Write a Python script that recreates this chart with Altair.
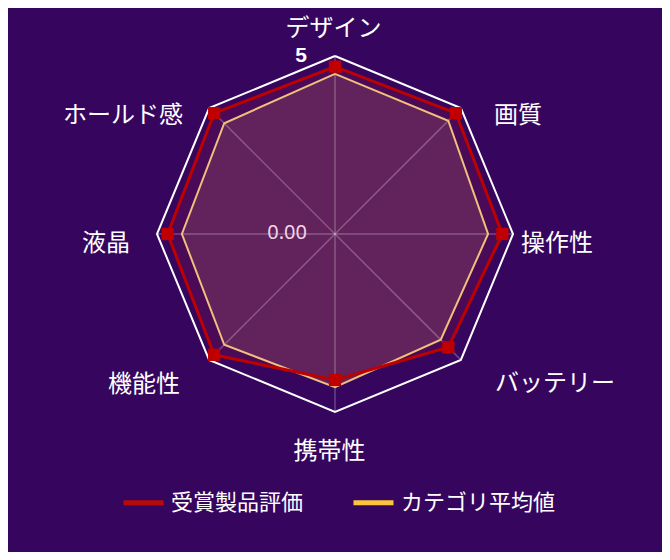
import math
import altair as alt
import pandas as pd

# ---------------- data ----------------
CATEGORIES = ["デザイン", "画質", "操作性", "バッテリー", "携帯性", "機能性", "液晶", "ホールド感"]
SERIES = ["受賞製品評価", "カテゴリ平均値"]
AWARD = [4.7, 4.8, 4.7, 4.5, 4.1, 4.8, 4.7, 4.8]
AVERAGE = [4.5, 4.5, 4.3, 4.2, 4.3, 4.4, 4.3, 4.4]
MAX_VALUE = 5
TICK_VALUES = [0, 5]
TICK_LABELS = ["0.00", "5"]

# ---------------- layout / style ----------------
W, H = 654, 544
CX, CY = 327, 226          # centre of the radar inside the svg (px)
R_PX = 178                 # outer radius (px)
PPU = R_PX / MAX_VALUE     # pixels per value unit
BG = "#36065f"
RED = "#bd0000"
YELLOW_LINE = "#f0c07c"
LEGEND_COLORS = ["#b80a0a", "#fcc43c"]
FONT = "Noto Sans CJK JP"

# label anchor offsets from the centre (px, y downward)
LABEL_OFFSETS = {
    "デザイン": (-1.5, -205, "center"),
    "画質": (159, -118.5, "left"),
    "操作性": (186, 9.5, "left"),
    "バッテリー": (160, 150, "left"),
    "携帯性": (-5.5, 217.5, "center"),
    "機能性": (-155, 150.5, "right"),
    "液晶": (-205, 10, "right"),
    "ホールド感": (-152, -118, "right"),
}

n = len(CATEGORIES)


def polar(r, i):
    th = 2 * math.pi * i / n
    return r * math.sin(th), r * math.cos(th)


def polygon(values, name):
    rows = []
    for k in range(n + 1):
        i = k % n
        x, y = polar(values[i], i)
        rows.append({"series": name, "idx": k, "category": CATEGORIES[i],
                     "value": values[i], "x": x, "y": y})
    return pd.DataFrame(rows)


award_df = polygon(AWARD, SERIES[0])
avg_df = polygon(AVERAGE, SERIES[1])
outer_df = polygon([MAX_VALUE] * n, "outer")
points_df = award_df[award_df["idx"] < n]

spokes_df = pd.DataFrame([
    {"x": 0.0, "y": 0.0, "x2": polar(MAX_VALUE, i)[0], "y2": polar(MAX_VALUE, i)[1]}
    for i in range(n)
])

labels_df = pd.DataFrame([
    {"category": c, "x": LABEL_OFFSETS[c][0] / PPU, "y": -LABEL_OFFSETS[c][1] / PPU,
     "align": LABEL_OFFSETS[c][2]}
    for c in CATEGORIES
])

ticks_df = pd.DataFrame({"value": TICK_VALUES, "label": TICK_LABELS})
ticks_df["x"] = -28 / PPU
ticks_df["y"] = [v + (0.3 / PPU if v == MAX_VALUE else 1 / PPU) for v in TICK_VALUES]

legend_df = pd.concat([award_df, avg_df])

x_dom = [-CX / PPU, (W - CX) / PPU]
y_dom = [-(H - CY) / PPU, CY / PPU]
X = alt.X("x:Q", scale=alt.Scale(domain=x_dom, nice=False, zero=False), axis=None)
Y = alt.Y("y:Q", scale=alt.Scale(domain=y_dom, nice=False, zero=False), axis=None)
ORDER = alt.Order("idx:Q")

red_fill = alt.Chart(award_df).mark_line(fill="#4a0a57", strokeWidth=0).encode(x=X, y=Y, order=ORDER)
avg_fill = alt.Chart(avg_df).mark_line(fill="#62225b", strokeWidth=0).encode(x=X, y=Y, order=ORDER)

spokes = alt.Chart(spokes_df).mark_rule(color="white", opacity=0.25, strokeWidth=1.5).encode(
    x=X, y=Y, x2="x2:Q", y2="y2:Q")

outer = alt.Chart(outer_df).mark_line(color="white", strokeWidth=2).encode(x=X, y=Y, order=ORDER)

avg_line = alt.Chart(avg_df).mark_line(color=YELLOW_LINE, strokeWidth=2).encode(x=X, y=Y, order=ORDER)
red_line = alt.Chart(award_df).mark_line(color=RED, strokeWidth=3).encode(x=X, y=Y, order=ORDER)
red_pts = alt.Chart(points_df).mark_square(color="#c00000", size=150, opacity=1).encode(x=X, y=Y)

legend_layer = alt.Chart(legend_df).transform_filter("datum.value < 0").mark_line(strokeWidth=5).encode(
    x=X, y=Y, order=ORDER,
    color=alt.Color("series:N", scale=alt.Scale(domain=SERIES, range=LEGEND_COLORS),
                    legend=alt.Legend(title=None, orient="none", direction="horizontal",
                                      legendX=113, legendY=472, symbolType="stroke",
                                      symbolSize=1600, symbolStrokeWidth=5,
                                      labelFont=FONT, labelFontSize=22, labelColor="white",
                                      labelOffset=5, columnPadding=39, labelLimit=0,
                                      symbolOffset=0, padding=0)))

label_layers = []
for al in ["left", "right", "center"]:
    label_layers.append(
        alt.Chart(labels_df[labels_df["align"] == al]).mark_text(
            align=al, baseline="middle", font=FONT, fontSize=24, color="white"
        ).encode(x=X, y=Y, text="category:N")
    )

tick5 = alt.Chart(ticks_df[ticks_df["value"] == MAX_VALUE]).mark_text(
    align="right", baseline="middle", font="Liberation Sans", fontSize=21, fontWeight="bold",
    color="white").encode(x=X, y=Y, text="label:N")
tick0 = alt.Chart(ticks_df[ticks_df["value"] == 0]).mark_text(
    align="right", baseline="middle", font="Noto Sans", fontSize=20,
    color="#f0d6e8").encode(x=X, y=Y, text="label:N")

chart = alt.layer(
    red_fill, avg_fill, spokes, outer, avg_line, red_line, red_pts,
    *label_layers, tick5, tick0, legend_layer
).properties(
    width=W, height=H, padding=0, autosize="none", background=BG
).configure_view(stroke=None)

chart.save("out.html", embed_options={"renderer": "svg", "actions": False})
